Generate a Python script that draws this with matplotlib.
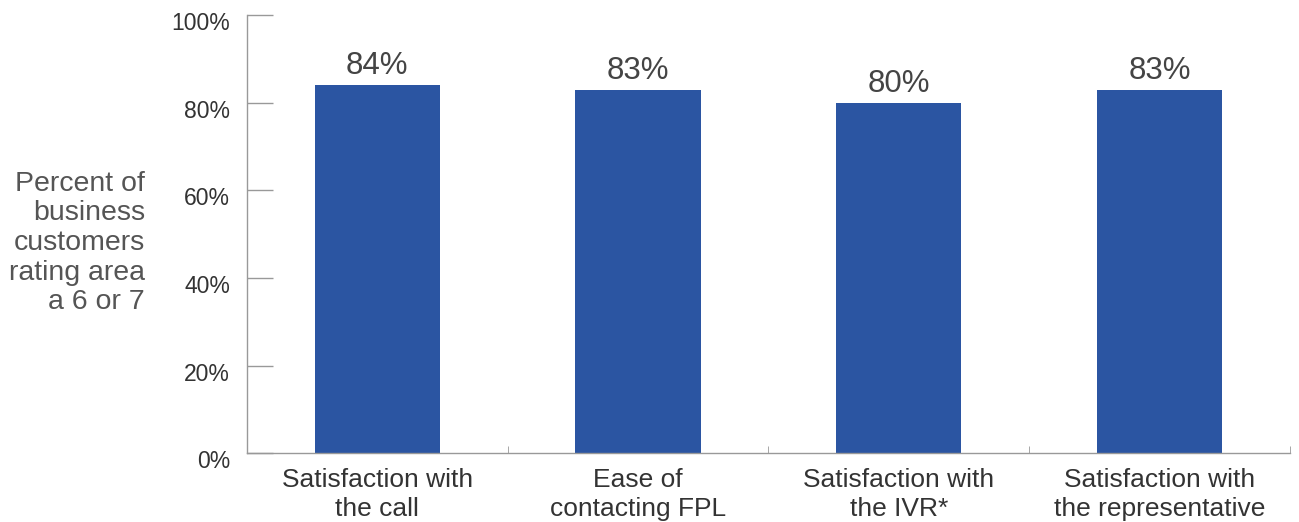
import numpy as np
import matplotlib.pyplot as plt
import matplotlib.transforms as mtrans

plt.rcParams['font.family'] = ['Liberation Sans', 'DejaVu Sans']

categories = ['Satisfaction with\nthe call', 'Ease of\ncontacting FPL',
              'Satisfaction with\nthe IVR*', 'Satisfaction with\nthe representative']
values = [84, 83, 80, 83]
yticks = [0, 20, 40, 60, 80, 100]

fig = plt.figure(figsize=(12.99, 5.22), dpi=100)
ax = fig.add_axes([0.190, 0.132, 0.803, 0.839])

x = np.arange(len(categories))
bars = ax.bar(x, values, width=0.48, color='#2b55a2')

for b, v in zip(bars, values):
    ax.text(b.get_x() + b.get_width() / 2, v + 2.5, f'{v}%',
            ha='center', va='baseline', fontsize=22.5, color='#444444')

ax.set_xlim(-0.5, 3.5)
ax.set_ylim(0, 100)
ax.set_yticks(yticks)
ax.set_yticklabels([f'{t}%' for t in yticks], fontsize=16.5, color='#333333')
ax.tick_params(axis='y', direction='in', length=19, width=1, color='#999999', pad=12)
shift = mtrans.ScaledTranslation(0, -6 / 100, fig.dpi_scale_trans)
for lbl in ax.get_yticklabels():
    lbl.set_transform(lbl.get_transform() + shift)

ax.set_xticks(x)
ax.set_xticklabels(categories, fontsize=19, color='#333333', linespacing=1.22)
ax.tick_params(axis='x', length=0, pad=11)
ax.set_xticks([0.5, 1.5, 2.5, 3.5], minor=True)
ax.tick_params(axis='x', which='minor', direction='in', length=5, color='#999999')

for s in ['top', 'right']:
    ax.spines[s].set_visible(False)
for s in ['left', 'bottom']:
    ax.spines[s].set_color('#999999')
    ax.spines[s].set_linewidth(1)

fig.text(145 / 1299, 1 - 243 / 522, 'Percent of\nbusiness\ncustomers\nrating area\na 6 or 7',
         ha='right', va='center', fontsize=20.5, color='#555555', linespacing=1.18)

fig.savefig('out.png', dpi=100)
